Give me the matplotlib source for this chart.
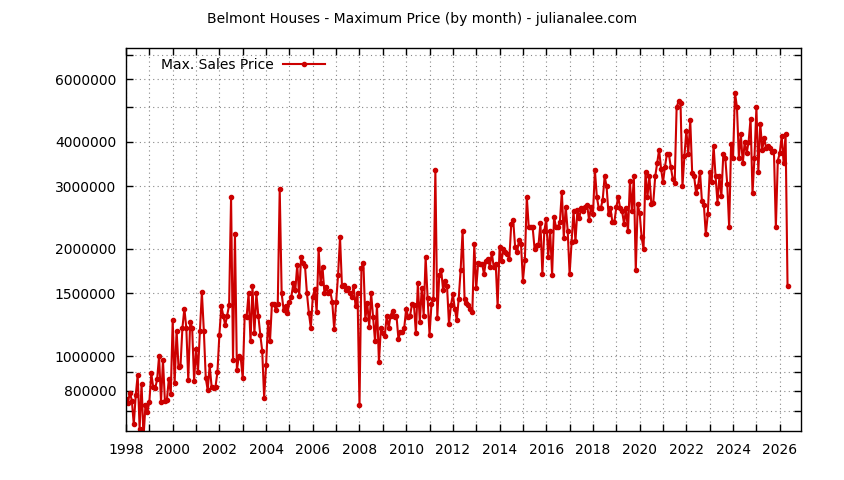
import numpy as np
import matplotlib
matplotlib.use("Agg")
import matplotlib.pyplot as plt
from matplotlib.lines import Line2D

# monthly max sales price (in thousands of $), starting Jan 1998
prices_1998_2002 = [
    760, 740, 790, 750, 643, 777, 884, 626, 834, 590, 728, 697,
    744, 894, 817, 812, 860, 1000, 744, 974, 748, 752, 860, 785,
    1260, 840, 1180, 929, 937, 1200, 1360, 1200, 856, 1250, 1200, 852,
    1050, 903, 1180, 1510, 1180, 866, 802, 943, 820, 812, 820, 903,
    1150, 1380, 1300, 1220, 1300, 1390, 2800, 974, 2200, 913, 1000, 985,
]
prices_2003_2007 = [
    866, 1300, 1290, 1500, 1100, 1570, 1160, 1500, 1300, 1150, 1035, 765,
    943, 1250, 1100, 1400, 1400, 1350, 1400, 2950, 1500, 1350, 1380, 1320,
    1420, 1470, 1600, 1530, 1800, 1480, 1900, 1830, 1790, 1500, 1320, 1200,
    1470, 1540, 1330, 2000, 1600, 1780, 1500, 1560, 1500, 1520, 1420, 1190,
    1420, 1690, 2160, 1570, 1580, 1530, 1550, 1500, 1470, 1570, 1380, 1500,
]
prices_2008_2012 = [
    727, 1770, 1830, 1270, 1410, 1210, 1500, 1290, 1100, 1390, 960, 1200,
    1160, 1140, 1300, 1200, 1300, 1340, 1290, 1300, 1120, 1170, 1170, 1200,
    1360, 1290, 1300, 1400, 1390, 1160, 1600, 1250, 1550, 1300, 1900, 1460,
    1150, 1400, 1450, 3330, 1280, 1690, 1740, 1530, 1630, 1570, 1230, 1390,
    1490, 1360, 1260, 1450, 1750, 2250, 1450, 1410, 1390, 1360, 1330, 2060,
]
prices_2013_2017 = [
    1550, 1830, 1820, 1820, 1700, 1850, 1880, 1780, 1950, 1780, 1820, 1380,
    2020, 1850, 2000, 1960, 1940, 1870, 2350, 2410, 2020, 1960, 2120, 2070,
    1630, 1860, 2800, 2300, 2300, 2300, 2000, 2050, 2050, 2360, 1700, 2250,
    2430, 1900, 2250, 1690, 2460, 2300, 2310, 2380, 2900, 2150, 2630, 2250,
    1700, 2090, 2560, 2100, 2570, 2450, 2600, 2560, 2620, 2660, 2410, 2630,
]
prices_2018_2022 = [
    2500, 3330, 2800, 2600, 2600, 2750, 3200, 3000, 2500, 2600, 2380, 2380,
    2620, 2800, 2600, 2550, 2350, 2600, 2240, 3100, 2550, 3200, 1740, 2670,
    2520, 2160, 2000, 3300, 2800, 3200, 2680, 2700, 3200, 3480, 3800, 3360,
    3080, 3400, 3700, 3700, 3400, 3150, 3070, 5000, 5200, 5150, 3000, 3650,
    4300, 3700, 4600, 3260, 3200, 2870, 3000, 3300, 2730, 2660, 2200, 2500,
]
prices_2023_2026 = [
    3300, 3080, 3900, 3200, 2700, 3200, 2820, 3700, 3600, 3050, 2300, 3950,
    3600, 5500, 5000, 3600, 4200, 3480, 4000, 3720, 4000, 4650, 2870, 3600,
    5000, 3300, 4500, 3800, 4100, 3850, 3900, 3850, 3750, 3780, 2300, 3540,
    3720, 4150, 3480, 4200, 1570,
]

ytick_values = [700000, 800000, 900000, 1000000, 1500000, 2000000,
                3000000, 4000000, 5000000, 6000000, 7000000]
ytick_labels = ['', '800000', '', '1000000', '1500000', '2000000',
                '3000000', '4000000', '', '6000000', '']
year_labels = list(range(1998, 2027, 2))

prices = np.array(prices_1998_2002 + prices_2003_2007 + prices_2008_2012
                  + prices_2013_2017 + prices_2018_2022 + prices_2023_2026) * 1000
dates = 1998 + np.arange(len(prices)) / 12.0

red = '#cc0000'

fig = plt.figure(figsize=(8.44, 4.8), dpi=100)
ax = fig.add_axes([126 / 844, 1 - 431 / 480, (801 - 126) / 844, (431 - 48) / 480])

ax.plot(dates, prices, color=red, lw=1.5, marker='o', ms=3, mec=red, mfc=red)

ax.set_yscale('log')
ax.set_ylim(616000, 7.34e6)
ax.set_xlim(1998, 2026.91)

ax.set_yticks(ytick_values)
ax.set_yticklabels(ytick_labels)
ax.yaxis.set_minor_locator(matplotlib.ticker.NullLocator())
ax.set_xticks(year_labels)
ax.set_xticklabels([str(y) for y in year_labels])
ax.set_xticks(np.arange(1999, 2027, 2), minor=True)

ax.tick_params(which='both', direction='in', top=True, right=True,
               labelsize=10, length=5, width=1, colors='black')
ax.tick_params(axis='y', pad=7)
ax.tick_params(axis='x', pad=9)

ax.grid(True, which='both', color='#888888', linestyle=(0, (1, 3)), lw=0.8)
for s in ax.spines.values():
    s.set_linewidth(1)

fig.text(0.5, 1 - 19 / 480, 'Belmont Houses - Maximum Price (by month) - julianalee.com',
         ha='center', va='center', fontsize=10)

handle = Line2D([], [], color=red, lw=1.5, marker='o', ms=3)
fig.legend([handle], ['Max. Sales Price'], loc='center left',
           bbox_to_anchor=(161 / 844, 1 - 65 / 480), frameon=False,
           markerfirst=False, borderpad=0, borderaxespad=0,
           handlelength=3, handletextpad=0.7, fontsize=10)

fig.savefig('out.png', dpi=100)
